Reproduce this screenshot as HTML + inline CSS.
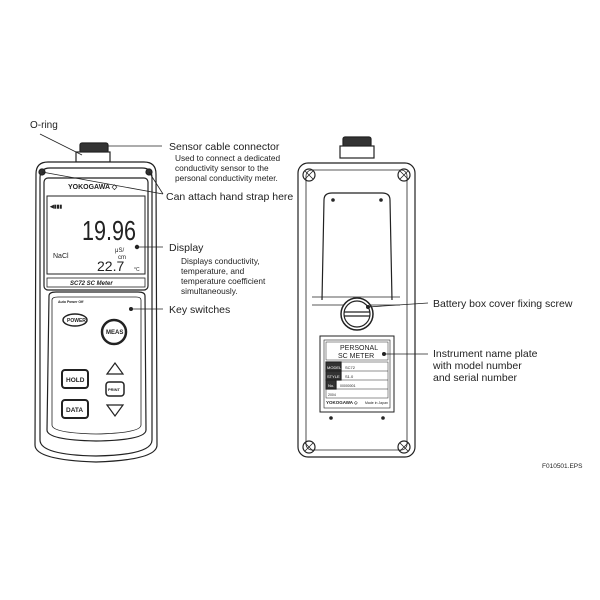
<!DOCTYPE html>
<html><head><style>
html,body{margin:0;padding:0;background:#fff;}
svg{display:block;font-family:"Liberation Sans",Arial,sans-serif;}
</style></head><body>
<svg width="600" height="600" viewBox="0 0 600 600" xmlns="http://www.w3.org/2000/svg">
<g fill="none" stroke="#222" stroke-width="1.2">
<!-- FRONT DEVICE -->
<rect x="80" y="143" width="28" height="10" rx="2" fill="#333"/>
<rect x="76" y="152" width="34" height="10" fill="#fff"/>
<path d="M36 174 Q36 162 48 162 L144 162 Q156 162 156 174 L157 445 Q157 460 96 462 Q35 460 35 445 Z" fill="#fff"/>
<path d="M40 178 Q40 168 50 168 L142 168 Q152 168 152 178 L152 440 Q152 455 96 456 Q40 455 40 440 Z"/>
<circle cx="42" cy="172" r="3" fill="#333"/>
<circle cx="149" cy="172" r="3" fill="#333"/>
<rect x="44" y="178" width="104" height="112" rx="4"/>
<rect x="47" y="196" width="98" height="78" stroke-width="1"/>
<rect x="47" y="278" width="98" height="9" stroke-width="0.8"/>
<path d="M49 296 Q49 292 56 292 L138 292 Q145 292 145 296 L146 430 Q146 440 96 441 Q47 440 47 430 Z"/>
<path d="M52 300 Q52 297 58 297 L136 297 Q141 297 141 300 L141 425 Q141 433 96 434 Q52 433 52 425 Z" stroke-width="0.8"/>
<ellipse cx="75" cy="320" rx="12" ry="6" stroke-width="1.5"/>
<circle cx="114" cy="332" r="12" stroke-width="2.5"/>
<rect x="62" y="370" width="26" height="18" rx="3" stroke-width="2"/>
<rect x="62" y="400" width="26" height="18" rx="3" stroke-width="2"/>
<rect x="106" y="382" width="18" height="14" rx="3" stroke-width="1.5"/>
<path d="M107 374 L115 363 L123 374 Z"/>
<path d="M107 405 L115 416 L123 405 Z"/>
<!-- BACK DEVICE -->
<rect x="343" y="137" width="28" height="10" rx="2" fill="#333"/>
<rect x="340" y="146" width="34" height="12" fill="#fff"/>
<rect x="298" y="163" width="117" height="294" rx="10" fill="#fff"/>
<rect x="306" y="170" width="101" height="280" rx="6" stroke-width="0.8"/>
<circle cx="309" cy="175" r="6"/><path d="M305 171l8 8M313 171l-8 8" stroke-width="0.8"/>
<circle cx="404" cy="175" r="6"/><path d="M400 171l8 8M408 171l-8 8" stroke-width="0.8"/>
<circle cx="309" cy="447" r="6"/><path d="M305 443l8 8M313 443l-8 8" stroke-width="0.8"/>
<circle cx="404" cy="447" r="6"/><path d="M400 443l8 8M408 443l-8 8" stroke-width="0.8"/>
<path d="M322 300 L324 200 Q324 193 332 193 L382 193 Q390 193 390 200 L392 300"/>
<circle cx="333" cy="200" r="1.2" fill="#333"/><circle cx="381" cy="200" r="1.2" fill="#333"/>
<path d="M312 297 L400 297 M312 305 L400 305" stroke-width="0.8"/>
<circle cx="357" cy="314" r="16" fill="#fff" stroke-width="1.5"/>
<circle cx="357" cy="314" r="13"/>
<path d="M344 312 L370 312 M344 316 L370 316"/>
<rect x="320" y="336" width="74" height="76" stroke-width="1"/>
<rect x="324" y="340" width="66" height="68" stroke-width="0.6"/>
<rect x="326" y="342" width="62" height="18" stroke-width="0.5"/>
<rect x="326" y="362" width="15" height="9" fill="#333"/>
<rect x="326" y="371" width="15" height="9" fill="#333"/>
<rect x="326" y="380" width="10" height="9" fill="#333"/>
<rect x="326" y="362" width="62" height="36" stroke-width="0.5"/>
<path d="M326 371h62M326 380h62M326 389h62" stroke-width="0.5"/>
<circle cx="331" cy="418" r="1.2" fill="#333"/><circle cx="383" cy="418" r="1.2" fill="#333"/>
</g>
<!-- leader lines -->
<g stroke="#222" stroke-width="0.8" fill="none">
<path d="M40 134 L82 155"/>
<path d="M108 146 L162 146"/>
<path d="M42 172 L163 194 M149 172 L163 194"/>
<path d="M137 247 L163 247"/>
<path d="M131 309 L163 309"/>
<path d="M368 307 L428 303"/>
<path d="M384 354 L428 354"/>
</g>
<circle cx="137" cy="247" r="2.2" fill="#222"/>
<circle cx="131" cy="309" r="2" fill="#222"/>
<circle cx="368" cy="307" r="2" fill="#222"/>
<circle cx="384" cy="354" r="2" fill="#222"/>
<!-- device texts -->
<g fill="#222">
<text x="68" y="189" font-size="7" font-weight="bold">YOKOGAWA ◇</text>
<text x="50" y="208" font-size="5" font-weight="bold">◀▮▮▮</text>
<text x="82" y="240" font-size="28" textLength="54" lengthAdjust="spacingAndGlyphs">19.96</text>
<text x="53" y="258" font-size="7">NaCl</text>
<text x="115" y="252" font-size="6">μS/</text>
<text x="118" y="259" font-size="6">cm</text>
<text x="97" y="271" font-size="14">22.7</text>
<text x="134" y="271" font-size="5">°C</text>
<text x="70" y="285" font-size="6" font-weight="bold" font-style="italic">SC72 SC Meter</text>
<text x="58" y="303" font-size="3.5" font-weight="bold">Auto Power Off</text>
<text x="67" y="322" font-size="5" font-weight="bold">POWER</text>
<text x="106" y="334" font-size="6" font-weight="bold">MEAS</text>
<text x="66" y="382" font-size="6.5" font-weight="bold">HOLD</text>
<text x="66" y="412" font-size="6.5" font-weight="bold">DATA</text>
<text x="108" y="391" font-size="4" font-weight="bold">PRINT</text>
<text x="340" y="350" font-size="7">PERSONAL</text>
<text x="338" y="358" font-size="7">SC METER</text>
<text x="327" y="369" font-size="4" fill="#fff">MODEL</text>
<text x="345" y="369" font-size="4">SC72</text>
<text x="327" y="378" font-size="4" fill="#fff">STYLE</text>
<text x="345" y="378" font-size="4">S1.0</text>
<text x="328" y="387" font-size="4" fill="#fff">No.</text>
<text x="340" y="387" font-size="3.5">00000001</text>
<text x="328" y="396" font-size="3.5">2004</text>
<text x="326" y="404" font-size="4.5" font-weight="bold">YOKOGAWA ◇</text>
<text x="365" y="404" font-size="3.5">Made in Japan</text>
</g>
<!-- labels -->
<g fill="#222" font-size="10.5">
<text x="30" y="128" font-size="10">O-ring</text>
<text x="169" y="150">Sensor cable connector</text>
<text x="175" y="161" font-size="8.3">Used to connect a dedicated</text>
<text x="175" y="171" font-size="8.3">conductivity sensor to the</text>
<text x="175" y="181" font-size="8.3">personal conductivity meter.</text>
<text x="166" y="200">Can attach hand strap here</text>
<text x="169" y="251">Display</text>
<text x="181" y="264" font-size="8.3">Displays conductivity,</text>
<text x="181" y="274" font-size="8.3">temperature, and</text>
<text x="181" y="284" font-size="8.3">temperature coefficient</text>
<text x="181" y="294" font-size="8.3">simultaneously.</text>
<text x="169" y="313">Key switches</text>
<text x="433" y="307">Battery box cover fixing screw</text>
<text x="433" y="357">Instrument name plate</text>
<text x="433" y="369">with model number</text>
<text x="433" y="381">and serial number</text>
<text x="542" y="468" font-size="6.5">F010501.EPS</text>
</g>
</svg>
</body></html>
